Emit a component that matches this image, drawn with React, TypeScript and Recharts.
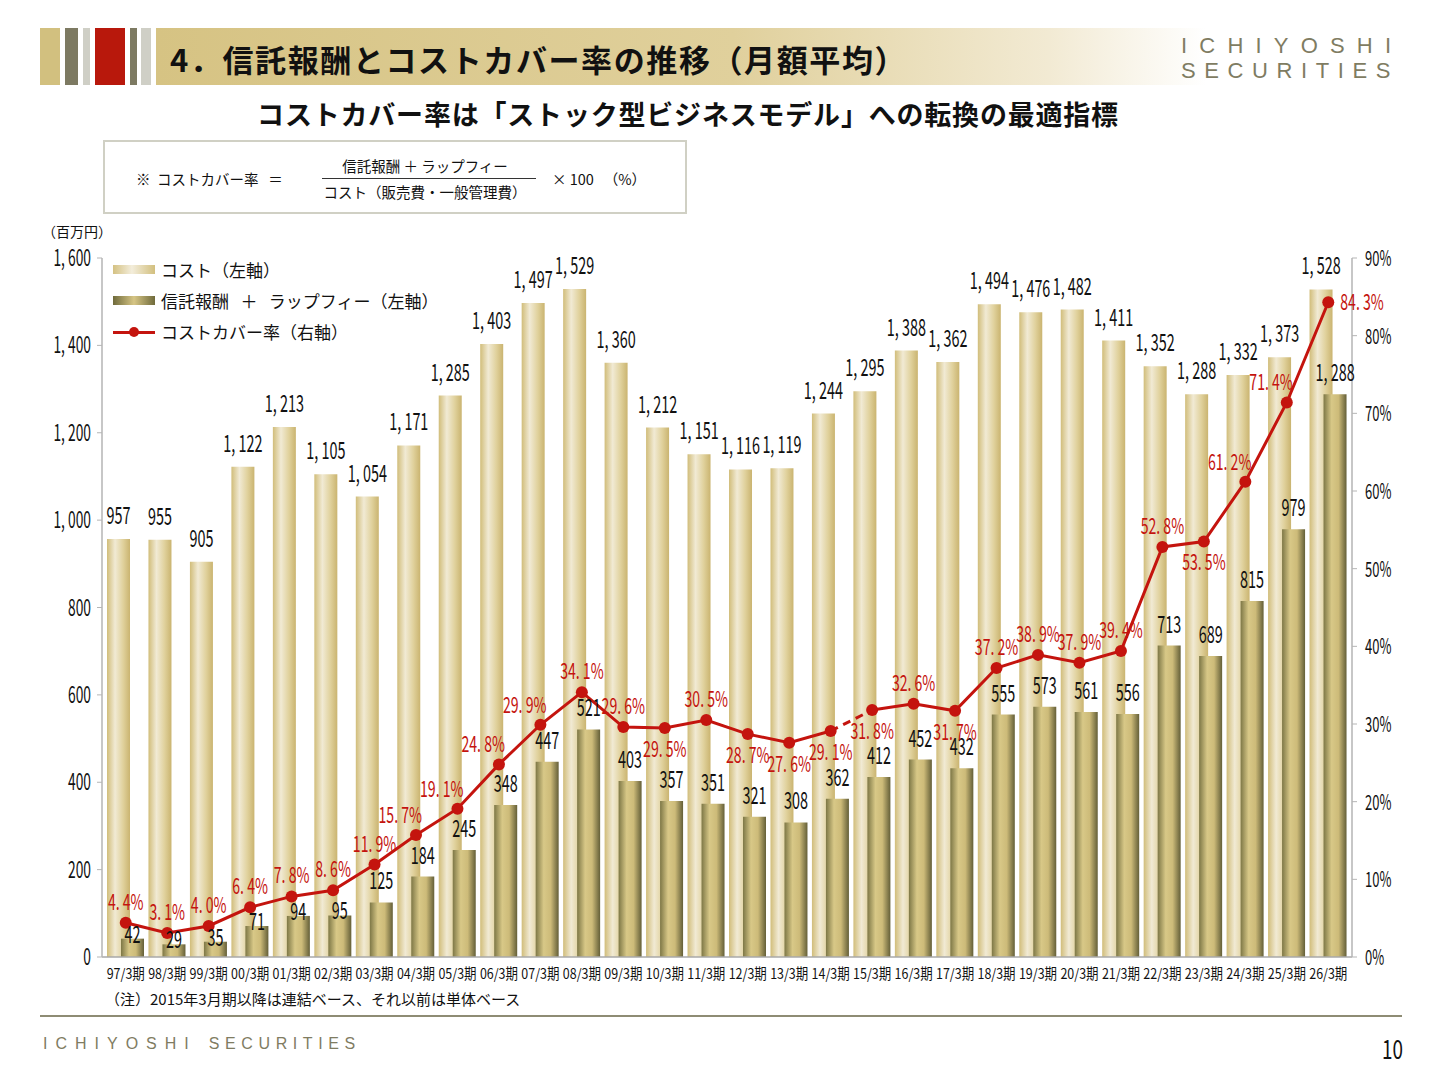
import { Bar, ComposedChart, LabelList, Line, XAxis, YAxis } from 'recharts'

// 期 (fiscal years ending March)
const periods = [
  '97/3期', '98/3期', '99/3期', '00/3期', '01/3期', '02/3期', '03/3期', '04/3期', '05/3期', '06/3期',
  '07/3期', '08/3期', '09/3期', '10/3期', '11/3期', '12/3期', '13/3期', '14/3期', '15/3期', '16/3期',
  '17/3期', '18/3期', '19/3期', '20/3期', '21/3期', '22/3期', '23/3期', '24/3期', '25/3期', '26/3期',
]

// コスト (百万円)
const costs = [
  957, 955, 905, 1122, 1213, 1105, 1054, 1171, 1285, 1403,
  1497, 1529, 1360, 1212, 1151, 1116, 1119, 1244, 1295, 1388,
  1362, 1494, 1476, 1482, 1411, 1352, 1288, 1332, 1373, 1528,
]

// 信託報酬 + ラップフィー (百万円)
const fees = [
  42, 29, 35, 71, 94, 95, 125, 184, 245, 348,
  447, 521, 403, 357, 351, 321, 308, 362, 412, 452,
  432, 555, 573, 561, 556, 713, 689, 815, 979, 1288,
]

// コストカバー率 (%)
const coverRates = [
  4.4, 3.1, 4.0, 6.4, 7.8, 8.6, 11.9, 15.7, 19.1, 24.8,
  29.9, 34.1, 29.6, 29.5, 30.5, 28.7, 27.6, 29.1, 31.8, 32.6,
  31.7, 37.2, 38.9, 37.9, 39.4, 52.8, 53.5, 61.2, 71.4, 84.3,
]

const leftTicks = [0, 200, 400, 600, 800, 1000, 1200, 1400, 1600]
const rightTicks = [0, 10, 20, 30, 40, 50, 60, 70, 80, 90]

// consolidated figures start here (see note under the chart)
const firstConsolidated = '15/3期'

// where each rate label sits relative to its dot
const belowLabels = ['29.5', '28.7', '27.6', '29.1', '31.8', '31.7', '53.5']
const leftLabels = ['15.7', '19.1', '24.8', '29.9', '61.2', '71.4']
const rightLabels = ['84.3']
// small fee values whose label is tucked onto the bar top, under the red line
const tuckedFeeLabels = ['97/3期', '98/3期', '99/3期', '00/3期', '01/3期', '02/3期']

const splitAt = periods.indexOf(firstConsolidated)

const rows = periods.map((period, i) => ({
  period,
  cost: costs[i],
  fee: fees[i],
  rateSingle: i < splitAt ? coverRates[i] : null,
  rateGroup: i >= splitAt ? coverRates[i] : null,
  rateBridge: i === splitAt - 1 || i === splitAt ? coverRates[i] : null,
}))

const JP = "'Noto Sans CJK JP', 'Noto Sans', sans-serif"
const RED = '#c4140e'
const OLIVE = '#7f7c62'

const fmtNum = (v: any) => Number(v).toLocaleString('en-US').replace(',', ',\u00a0')
const fmtRate = (v: number) => `${v.toFixed(1).replace('.', '.\u00a0')}%`

// the slide uses a tall condensed gothic; squeeze a normal one horizontally
function Narrow(props: {
  x: number
  y: number
  size: number
  sx: number
  fill?: string
  anchor?: 'start' | 'middle' | 'end'
  children: any
}) {
  const { x, y, size, sx, fill = '#111', anchor = 'middle', children } = props
  return (
    <text
      transform={`translate(${x},${y}) scale(${sx},1)`}
      textAnchor={anchor}
      fontSize={size}
      fill={fill}
      fontFamily={JP}
    >
      {children}
    </text>
  )
}

function CostValue(props: any) {
  const vb = props.viewBox || props
  if (props.value == null || vb.x == null) return null
  return (
    <Narrow x={vb.x + vb.width / 2} y={vb.y - 15} size={24} sx={0.6}>
      {fmtNum(props.value)}
    </Narrow>
  )
}

function FeeValue(props: any) {
  const vb = props.viewBox || props
  if (props.value == null || vb.x == null) return null
  const tucked = tuckedFeeLabels.includes(periods[props.index])
  return (
    <Narrow x={vb.x + vb.width / 2} y={vb.y + (tucked ? 4 : -13)} size={24} sx={0.6}>
      {fmtNum(props.value)}
    </Narrow>
  )
}

function RateLabel(props: any) {
  const { value } = props
  const x = props.x ?? props.viewBox?.x
  const y = props.y ?? props.viewBox?.y
  if (value == null || x == null || y == null) return null
  const key = Number(value).toFixed(1)
  let dx = 0
  let dy = -13
  let anchor: 'middle' | 'start' | 'end' = 'middle'
  if (belowLabels.includes(key)) dy = 29
  else if (leftLabels.includes(key)) {
    dx = 6
    dy = -12
    anchor = 'end'
  } else if (rightLabels.includes(key)) {
    dx = 12
    dy = 8
    anchor = 'start'
  }
  return (
    <Narrow x={x + dx} y={y + dy} size={22} sx={0.64} fill={RED} anchor={anchor}>
      {fmtRate(Number(value))}
    </Narrow>
  )
}

const PeriodTick = (p: any) => (
  <Narrow x={p.x} y={p.y + 14} size={14.5} sx={0.86}>
    {p.payload.value}
  </Narrow>
)

const LeftTick = (p: any) => (
  <Narrow x={p.x} y={p.y + 8} size={23} sx={0.6} anchor="end">
    {fmtNum(p.payload.value)}
  </Narrow>
)

const RightTick = (p: any) => (
  <Narrow x={p.x} y={p.y + 8} size={21} sx={0.62} anchor="start">
    {`${p.payload.value}%`}
  </Narrow>
)

function Header() {
  const stripe = (left: number, width: number, color: string) => (
    <div style={{ position: 'absolute', left, top: 28, width, height: 57, background: color }} />
  )
  return (
    <>
      {stripe(40, 20, '#d2c07f')}
      {stripe(65, 13, '#7d7a62')}
      {stripe(83, 7, '#cfcfc6')}
      {stripe(95, 30, '#b8180c')}
      {stripe(130, 7, '#7d7a62')}
      {stripe(141, 10, '#cfcfc6')}
      <div
        style={{
          position: 'absolute', left: 156, top: 28, width: 1050, height: 57,
          background: 'linear-gradient(to right, #d6c383 0%, #e0d09c 55%, #f2ead3 85%, #ffffff 100%)',
        }}
      />
      <div
        style={{
          position: 'absolute', left: 170, top: 36, fontFamily: JP, fontWeight: 700, fontSize: 31,
          color: '#111', whiteSpace: 'nowrap', letterSpacing: 1.6,
        }}
      >
        4．信託報酬とコストカバー率の推移（月額平均）
      </div>
      <div
        style={{
          position: 'absolute', left: 1181, top: 33, fontFamily: "'Liberation Sans', sans-serif",
          fontSize: 22, lineHeight: '25px', color: OLIVE, whiteSpace: 'nowrap',
        }}
      >
        <div style={{ letterSpacing: 12.2 }}>ICHIYOSHI</div>
        <div style={{ letterSpacing: 8.6 }}>SECURITIES</div>
      </div>
      <div
        style={{
          position: 'absolute', left: 0, width: 1376, top: 94, textAlign: 'center', fontFamily: JP,
          fontWeight: 700, fontSize: 27, color: '#111', whiteSpace: 'nowrap', letterSpacing: 0.8,
        }}
      >
        コストカバー率は「ストック型ビジネスモデル」への転換の最適指標
      </div>
    </>
  )
}

function Formula() {
  const txt = { position: 'absolute' as const, fontFamily: JP, fontSize: 14.5, color: '#111', whiteSpace: 'nowrap' as const }
  return (
    <>
      <div
        style={{
          position: 'absolute', left: 103, top: 140, width: 580, height: 70,
          border: '2px solid #d0d0c4', background: '#fff',
        }}
      />
      <div style={{ ...txt, left: 136, top: 168 }}>※&nbsp; コストカバー率&nbsp;&nbsp; ＝</div>
      <div style={{ ...txt, left: 318, width: 214, top: 155, textAlign: 'center' }}>信託報酬 ＋ ラップフィー</div>
      <div style={{ position: 'absolute', left: 322, top: 178, width: 214, height: 1, background: '#333' }} />
      <div style={{ ...txt, left: 318, width: 214, top: 181, textAlign: 'center' }}>コスト（販売費・一般管理費）</div>
      <div style={{ ...txt, left: 552, top: 168 }}>× 100&nbsp;&nbsp; （%）</div>
      <div style={{ ...txt, left: 42, top: 221, fontSize: 14 }}>（百万円）</div>
    </>
  )
}

function Legend() {
  const row = {
    position: 'absolute' as const, left: 113, display: 'flex', alignItems: 'center', fontFamily: JP,
    fontSize: 17, color: '#111', whiteSpace: 'nowrap' as const,
  }
  const swatch = (bg: string) => <div style={{ width: 42, height: 9, background: bg, marginRight: 6 }} />
  return (
    <>
      <div style={{ ...row, top: 257 }}>
        {swatch('linear-gradient(to right, #d4c182, #f3eddb 45%, #d2bf7e)')}
        コスト（左軸）
      </div>
      <div style={{ ...row, top: 288 }}>
        {swatch('linear-gradient(to right, #6f6a3b, #d6c585 50%, #6f6a3b)')}
        信託報酬&nbsp;&nbsp;&nbsp;＋&nbsp;&nbsp;&nbsp;ラップフィー（左軸）
      </div>
      <div style={{ ...row, top: 319 }}>
        <div style={{ position: 'relative', width: 42, height: 10, marginRight: 6 }}>
          <div style={{ position: 'absolute', left: 0, top: 4, width: 42, height: 3, background: RED }} />
          <div style={{ position: 'absolute', left: 16, top: 0, width: 10, height: 10, borderRadius: 5, background: RED }} />
        </div>
        コストカバー率（右軸）
      </div>
    </>
  )
}

function Footer() {
  return (
    <>
      <div
        style={{
          position: 'absolute', left: 105, top: 988, fontFamily: JP, fontSize: 15, color: '#111',
          whiteSpace: 'nowrap',
        }}
      >
        （注）2015年3月期以降は連結ベース、それ以前は単体ベース
      </div>
      <div style={{ position: 'absolute', left: 40, top: 1015, width: 1362, height: 1.5, background: '#8e8c74' }} />
      <div
        style={{
          position: 'absolute', left: 43, top: 1035, fontFamily: "'Liberation Sans', sans-serif", fontSize: 16,
          color: OLIVE, whiteSpace: 'nowrap', display: 'flex',
        }}
      >
        <span style={{ letterSpacing: 8 }}>ICHIYOSHI</span>
        <span style={{ letterSpacing: 5.6, marginLeft: 12 }}>SECURITIES</span>
      </div>
      <svg style={{ position: 'absolute', left: 1340, top: 1026, overflow: 'visible' }} width={90} height={50}>
        <Narrow x={63} y={33} size={27} sx={0.7} anchor="end">
          10
        </Narrow>
      </svg>
    </>
  )
}

export default function App() {
  return (
    <div style={{ position: 'absolute', left: 0, top: 0, width: 1440, height: 1080, background: '#fff', overflow: 'hidden' }}>
      <Header />
      <Formula />
      <div style={{ position: 'absolute', left: 0, top: 0 }}>
        <ComposedChart
          width={1440}
          height={1080}
          data={rows}
          margin={{ top: 258, right: 0, bottom: 0, left: 0 }}
          barSize={23}
          barGap={-9}
        >
          <defs>
            <linearGradient id="costFill" x1="0" y1="0" x2="1" y2="0">
              <stop offset="0%" stopColor="#d1bd7a" />
              <stop offset="35%" stopColor="#f1ead4" />
              <stop offset="70%" stopColor="#e0d19c" />
              <stop offset="100%" stopColor="#cab470" />
            </linearGradient>
            <linearGradient id="feeFill" x1="0" y1="0" x2="1" y2="0">
              <stop offset="0%" stopColor="#7d7746" />
              <stop offset="35%" stopColor="#d8c887" />
              <stop offset="65%" stopColor="#cdbb79" />
              <stop offset="100%" stopColor="#645f38" />
            </linearGradient>
          </defs>
          <XAxis
            dataKey="period"
            height={123}
            padding={{ left: 3, right: 3 }}
            interval={0}
            tickLine={false}
            tickMargin={2}
            axisLine={{ stroke: '#a8a8a8', strokeWidth: 1.5 }}
            tick={PeriodTick}
          />
          <YAxis
            yAxisId="left"
            orientation="left"
            width={102}
            domain={[0, 1600]}
            ticks={leftTicks}
            interval={0}
            tickSize={5}
            tickMargin={6}
            axisLine={{ stroke: '#b5b5b5', strokeWidth: 1.5 }}
            tickLine={{ stroke: '#b5b5b5' }}
            tick={LeftTick}
          />
          <YAxis
            yAxisId="right"
            orientation="right"
            width={88}
            domain={[0, 90]}
            ticks={rightTicks}
            interval={0}
            tickSize={5}
            tickMargin={8}
            axisLine={{ stroke: '#b5b5b5', strokeWidth: 1.5 }}
            tickLine={{ stroke: '#b5b5b5' }}
            tick={RightTick}
          />
          <Bar yAxisId="left" dataKey="cost" fill="url(#costFill)" isAnimationActive={false}>
            <LabelList dataKey="cost" content={CostValue} />
          </Bar>
          <Bar yAxisId="left" dataKey="fee" fill="url(#feeFill)" isAnimationActive={false}>
            <LabelList dataKey="fee" content={FeeValue} />
          </Bar>
          <Line
            yAxisId="right"
            dataKey="rateBridge"
            stroke={RED}
            strokeWidth={3}
            strokeDasharray="8 6"
            dot={false}
            activeDot={false}
            isAnimationActive={false}
          />
          <Line
            yAxisId="right"
            dataKey="rateSingle"
            stroke={RED}
            strokeWidth={3}
            dot={{ r: 6, fill: RED, stroke: RED, strokeWidth: 0 }}
            activeDot={false}
            isAnimationActive={false}
          >
            <LabelList dataKey="rateSingle" content={RateLabel} />
          </Line>
          <Line
            yAxisId="right"
            dataKey="rateGroup"
            stroke={RED}
            strokeWidth={3}
            dot={{ r: 6, fill: RED, stroke: RED, strokeWidth: 0 }}
            activeDot={false}
            isAnimationActive={false}
          >
            <LabelList dataKey="rateGroup" content={RateLabel} />
          </Line>
        </ComposedChart>
      </div>
      <Legend />
      <Footer />
    </div>
  )
}
